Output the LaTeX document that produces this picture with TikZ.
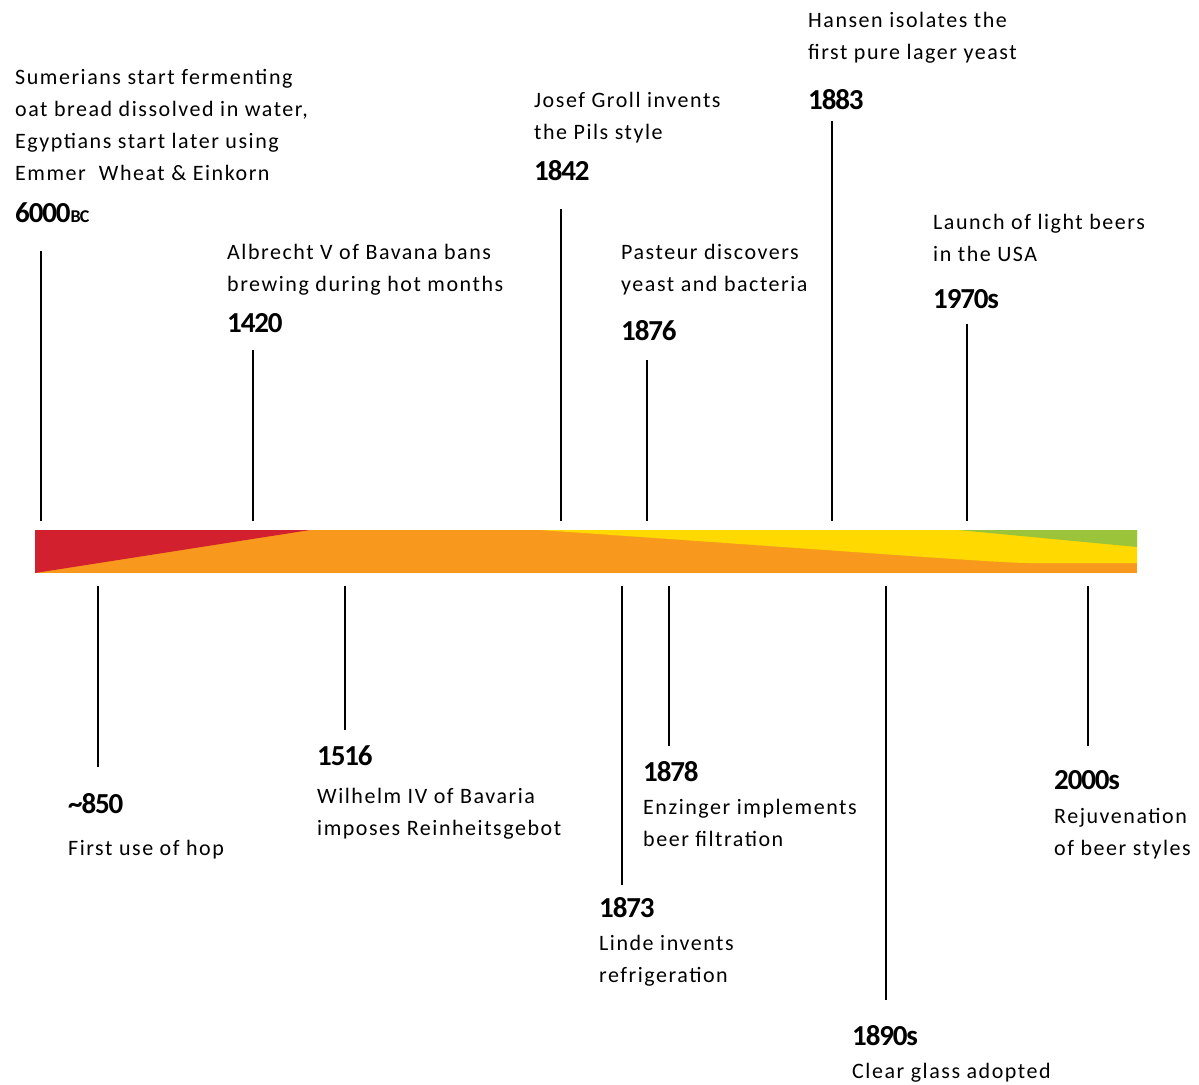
\documentclass[tikz,border=0pt]{standalone}
\usepackage{fontspec}
\setmainfont{Carlito}
\newfontfamily\descfont[LetterSpace=7]{Carlito}
\newfontfamily\yearfont[LetterSpace=-4]{Carlito}
\usetikzlibrary{positioning}

\definecolor{beerred}{HTML}{D2202F}
\definecolor{beerorange}{HTML}{F8991E}
\definecolor{beeryellow}{HTML}{FFD900}
\definecolor{beergreen}{HTML}{9CC43B}

\begin{document}
\begin{tikzpicture}[x=1pt,y=-1pt]
  \tikzset{text node/.style={inner sep=0pt, anchor=base west, align=left,
		font=\descfont\fontsize{22}{32}\selectfont}, }
\tikzset{year node/.style={inner sep=0pt, anchor=base west,
		font=\yearfont\bfseries\fontsize{29}{30}\selectfont}, }
\tikzset{linea/.style={line width=2pt},}
\useasboundingbox (0,0) rectangle (1199,1084);
%
% the band
\fill[beerorange] (35,530) rectangle (1137,573);
\fill[beerred] (35,530) -- (310,530) -- (35,573) -- cycle;
\fill[beeryellow] (540,530) -- (1137,530) -- (1137,563) -- (1030,563)
  .. controls (1000,563) and (900,555) .. (540,530) -- cycle;
\fill[beergreen] (958,530) -- (1137,530) -- (1137,547) -- cycle;
%
% above the band (base = last line)
    \node[text node] (d1) at (15,180) {Sumerians start fermenting\\oat bread dissolved in water,\\Egyptians start later using\\Emmer\ \ Wheat \& Einkorn};
    \node[year node] (y1) at (15,222) {6000{\fontsize{18}{18}\selectfont BC}};
    \node[text node] (d2) at (227,291) {Albrecht V of Bavana bans\\brewing during hot months};
    \node[year node] (y2) at (227,332) {1420};
    \node[text node] (d3) at (534,139) {Josef Groll invents\\the Pils style};
    \node[year node] (y3) at (534,180) {1842};
    \node[text node] (d4) at (808,59) {Hansen isolates the\\first pure lager yeast};
    \node[year node] (y4) at (808,109) {1883};
    \node[text node] (d5) at (621,291) {Pasteur discovers\\yeast and bacteria};
    \node[year node] (y5) at (621,340) {1876};
    \node[text node] (d6) at (933,261) {Launch of light beers\\in the USA};
    \node[year node] (y6) at (933,308) {1970s};
%
% below the band
    \node[year node] (y7) at (68,813) {\textasciitilde850};
    \node[text node] (d7) at (68,855) {First use of hop};
    \node[year node] (y8) at (317,765) {1516};
    \node[text node] (d8) at (317,835) {Wilhelm IV of Bavaria\\imposes Reinheitsgebot};
    \node[year node] (y9) at (599,917) {1873};
    \node[text node] (d9) at (599,982) {Linde invents\\refrigeration};
    \node[year node] (y10) at (643,781) {1878};
    \node[text node] (d10) at (643,846) {Enzinger implements\\beer filtration};
    \node[year node] (y11) at (852,1045) {1890s};
    \node[text node] (d11) at (852,1078) {Clear glass adopted};
    \node[year node] (y12) at (1054,789) {2000s};
    \node[text node] (d12) at (1054,855) {Rejuvenation\\of beer styles};
%
% tick ends
\coordinate (a1) at (41,251);   \coordinate (b1) at (41,521);
\coordinate (a2) at (253,350);  \coordinate (b2) at (253,521);
\coordinate (a3) at (561,209);  \coordinate (b3) at (561,521);
\coordinate (a4) at (832,121);  \coordinate (b4) at (832,521);
\coordinate (a5) at (647,360);  \coordinate (b5) at (647,521);
\coordinate (a6) at (967,324);  \coordinate (b6) at (967,521);
\coordinate (a7) at (98,586);   \coordinate (b7) at (98,767);
\coordinate (a8) at (345,586);  \coordinate (b8) at (345,730);
\coordinate (a9) at (622,586);  \coordinate (b9) at (622,885);
\coordinate (a10) at (669,586); \coordinate (b10) at (669,746);
\coordinate (a11) at (886,586); \coordinate (b11) at (886,1000);
\coordinate (a12) at (1088,586);\coordinate (b12) at (1088,746);
%
\foreach \x in {1,...,12}
  \draw[linea] (a\x) -- (b\x);
%
\end{tikzpicture}
\end{document}
